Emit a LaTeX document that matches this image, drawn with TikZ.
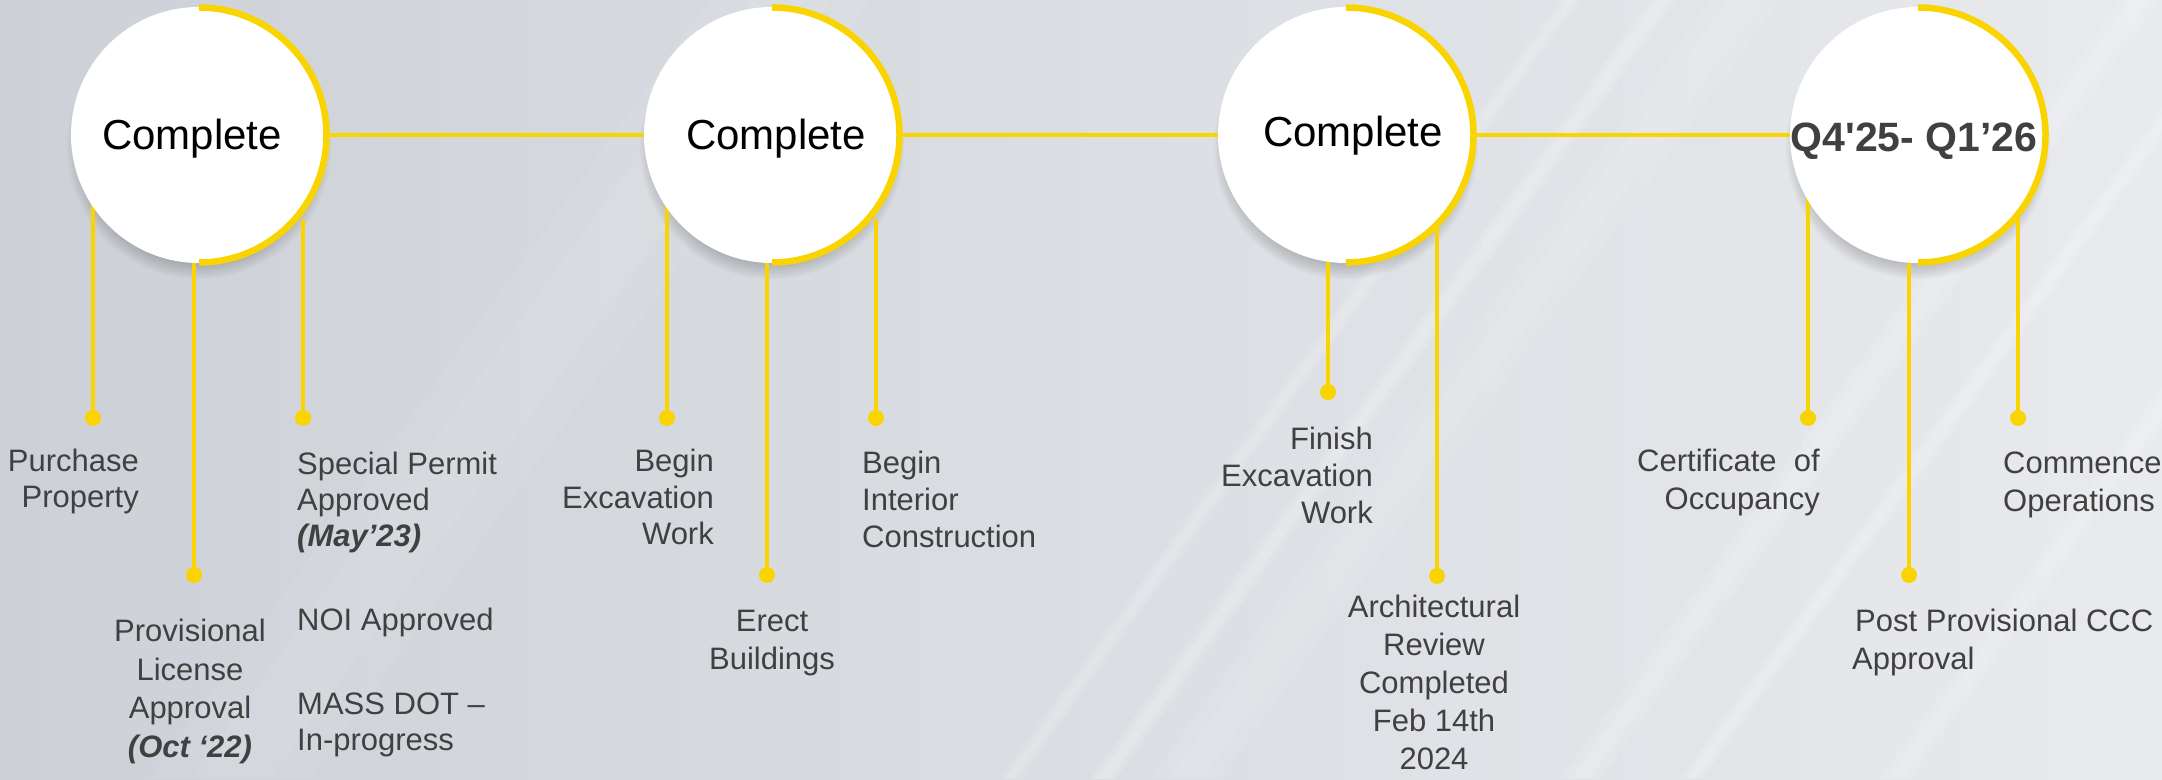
\documentclass[tikz,border=0pt]{standalone}
\usepackage{fontspec}
\setmainfont{Liberation Sans}
\newfontfamily\qfont{Liberation Sans}
\definecolor{ylw}{RGB}{250,212,0}
\definecolor{txt}{RGB}{64,64,64}
\definecolor{bgL}{RGB}{205,209,215}
\definecolor{bgR}{RGB}{232,234,237}
\newcommand\tl[2]{\begin{tabular}[t]{@{}#1@{}}#2\end{tabular}}
\newcommand\softstreak[3]{%
  \fill[white, opacity=#3] (#1,0) -- ++(#2,0) -- ++(560,779) -- ++(-#2,0) -- cycle;
  \fill[white, opacity=#3] (#1+0.25*#2,0) -- ++(0.5*#2,0) -- ++(560,779) -- ++(-0.5*#2,0) -- cycle;}
\tikzset{
  milestone/.style={circle, fill=white, minimum size=256pt, inner sep=0pt, outer sep=0pt},
  link/.style={ylw, line width=4pt},
  stemline/.style={ylw, line width=3.3pt},
  dotnode/.style={circle, fill=ylw, minimum size=16pt, inner sep=0pt},
  ring/.style={ylw, line width=6.5pt},
  lbl/.style={inner sep=0pt, text=txt, font=\fontsize{31}{#1}\selectfont},
  lbl/.default=37,
  status/.style={inner sep=0pt, anchor=base, text=black, font=\fontsize{42}{50}\selectfont},
}
\begin{document}
\begin{tikzpicture}[x=1pt,y=1pt]
\useasboundingbox (0,0) rectangle (2162,779);
% background
\shade[left color=bgL, right color=bgR] (0,0) rectangle (2162,779);
\begin{scope}
\clip (0,0) rectangle (2162,779);
\softstreak{150}{160}{0.06}
\softstreak{1000}{20}{0.12}
\softstreak{1090}{26}{0.14}
\softstreak{1150}{70}{0.08}
\softstreak{1560}{40}{0.12}
\softstreak{1680}{22}{0.14}
\softstreak{1880}{30}{0.11}
\end{scope}
% soft shadows
\foreach \cx in {199,772,1346,1918}{
  \foreach \i in {0,...,7}{
    \fill[black, opacity=0.022] (\cx,632) circle ({118+2*\i});
  }
}
% dots
\node[dotnode] (d11) at (93,361) {};
\node[dotnode] (d12) at (194,204) {};
\node[dotnode] (d13) at (303,361) {};
\node[dotnode] (d21) at (667,361) {};
\node[dotnode] (d22) at (767,204) {};
\node[dotnode] (d23) at (876,361) {};
\node[dotnode] (d31) at (1328,387) {};
\node[dotnode] (d32) at (1437,203) {};
\node[dotnode] (d41) at (1808,361) {};
\node[dotnode] (d42) at (1909,204) {};
\node[dotnode] (d43) at (2018,361) {};
% stem tops
\coordinate (u11) at (93,644);
\coordinate (u12) at (194,644);
\coordinate (u13) at (303,560);
\coordinate (u21) at (667,644);
\coordinate (u22) at (767,644);
\coordinate (u23) at (876,560);
\coordinate (u31) at (1328,644);
\coordinate (u32) at (1437,552);
\coordinate (u41) at (1808,644);
\coordinate (u42) at (1909,644);
\coordinate (u43) at (2018,560);
\foreach \s in {11,12,13,21,22,23,31,32,41,42,43}{
  \draw[stemline] (u\s) -- (d\s.center);
}
% milestones
\node[milestone] (c1) at (199,644) {};
\node[milestone] (c2) at (772,644) {};
\node[milestone] (c3) at (1346,644) {};
\node[milestone] (c4) at (1918,644) {};
\draw[link] (c1) -- (c2);
\draw[link] (c2) -- (c3);
\draw[link] (c3) -- (c4);
\foreach \c in {c1,c2,c3,c4}{
  \draw[ring] (\c.center) ++(0,127.5) arc[start angle=90, end angle=-90, radius=127.5];
}
% status texts
\node[status] (s1) at (192,629) {Complete};
\node[status] (s2) at (776,629) {Complete};
\node[status] (s3) at (1353,632) {Complete};
\node[status, text=txt, font=\qfont\fontsize{41}{50}\selectfont\bfseries] (s4) at (1914,627) {Q4'25- Q1’26};
% labels
\node[lbl=36, anchor=base east] (t11) at (139,307) {\tl{r}{Purchase\\Property}};
\node[lbl=38.5, anchor=base] (t12) at (190,137) {\tl{c}{Provisional\\License\\Approval\\\textbf{\textit{(Oct ‘22)}}}};
\node[lbl=36, anchor=base west] (t13) at (297,304) {\tl{l}{Special Permit\\Approved\\\textbf{\textit{(May’23)}}}};
\node[lbl, anchor=base west] (t14) at (297,148) {NOI Approved};
\node[lbl=37, anchor=base west] (t15) at (297,65) {\tl{l}{MASS DOT –\\In-progress}};
\node[lbl=36.5, anchor=base east] (t21) at (714,307) {\tl{r}{Begin\\Excavation\\Work}};
\node[lbl=38, anchor=base] (t22) at (772,147) {\tl{c}{Erect\\Buildings}};
\node[lbl=37, anchor=base west] (t23) at (862,305) {\tl{l}{Begin\\Interior\\Construction}};
\node[lbl=37, anchor=base east] (t31) at (1373,329) {\tl{r}{Finish\\Excavation\\Work}};
\node[lbl=38, anchor=base] (t32) at (1434,161) {\tl{c}{Architectural\\Review\\Completed\\Feb 14th\\2024}};
\node[lbl=38, anchor=base east] (t41) at (1820,307) {\tl{r}{Certificate\ \ of\\Occupancy}};
\node[lbl=38, anchor=base west] (t42) at (2003,305) {\tl{l}{Commence\\Operations}};
\node[lbl=38, anchor=base west] (t43) at (1852,147) {\tl{l}{\hspace{3pt}Post Provisional CCC\\Approval}};
\end{tikzpicture}
\end{document}
